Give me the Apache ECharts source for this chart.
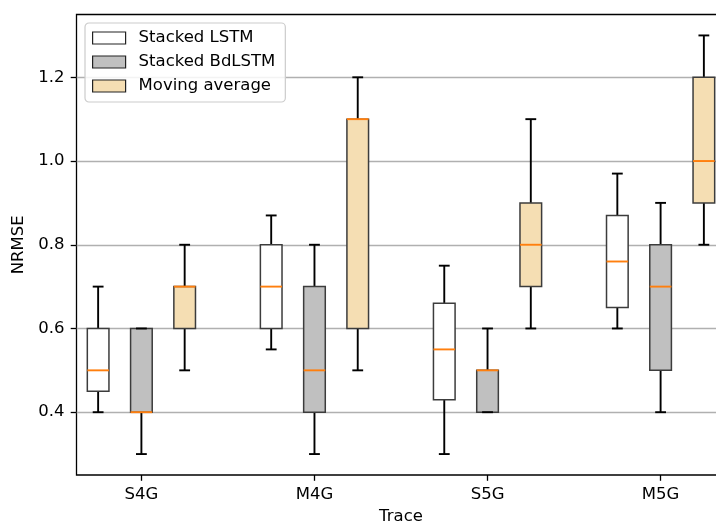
<!DOCTYPE html>
<html>
<head>
<meta charset="utf-8">
<script src="https://cdn.jsdelivr.net/npm/echarts@6/dist/echarts.min.js"></script>
<style>html,body{margin:0;padding:0;background:#fff}#c{width:716px;height:523px}</style>
</head>
<body>
<div id="c"></div>
<script>
// Trace groups (x-axis tick labels)
const traces = ['S4G', 'M4G', 'S5G', 'M5G'];
const seriesNames = ['Stacked LSTM', 'Stacked BdLSTM', 'Moving average'];
// box stats per trace: [min, Q1, median, Q3, max]
const lstm   = [[0.40, 0.45, 0.50, 0.60, 0.70], [0.55, 0.60, 0.70, 0.80, 0.87], [0.30, 0.43, 0.55, 0.66, 0.75], [0.60, 0.65, 0.76, 0.87, 0.97]];
const bdlstm = [[0.30, 0.40, 0.40, 0.60, 0.60], [0.30, 0.40, 0.50, 0.70, 0.80], [0.40, 0.40, 0.50, 0.50, 0.60], [0.40, 0.50, 0.70, 0.80, 0.90]];
const movavg = [[0.50, 0.60, 0.70, 0.70, 0.80], [0.50, 0.60, 1.10, 1.10, 1.20], [0.60, 0.70, 0.80, 0.90, 1.10], [0.80, 0.90, 1.00, 1.20, 1.30]];
const yTicks = [0.4, 0.6, 0.8, 1.0, 1.2];

// category slots: 3 boxes + 1 gap per trace
const slots = [];
traces.forEach((t, i) => { slots.push(''); slots.push(t); slots.push(''); if (i < traces.length - 1) slots.push(''); });
const labelIdx = traces.map((t, i) => i * 4 + 1);

function toData(arr, offset) { return arr.map((v, i) => [i * 4 + offset].concat(v)); }

const fills = ['#ffffff', '#c0c0c0', '#f5deb3'];
const MED = '#ff7f0e';

function renderBox(fill) {
  return function (params, api) {
    const x = api.value(0);
    const pMin = api.coord([x, api.value(1)]);
    const pQ1 = api.coord([x, api.value(2)]);
    const pMed = api.coord([x, api.value(3)]);
    const pQ3 = api.coord([x, api.value(4)]);
    const pMax = api.coord([x, api.value(5)]);
    const bw = api.size([1, 0])[0];
    const hw = bw * 0.25, cw = bw * 0.125;
    const cx = pMed[0];
    const wStyle = { stroke: '#000', lineWidth: 1.9, fill: null };
    return {
      type: 'group',
      children: [
        { type: 'line', shape: { x1: cx, y1: pQ1[1], x2: cx, y2: pMin[1] }, style: wStyle },
        { type: 'line', shape: { x1: cx, y1: pQ3[1], x2: cx, y2: pMax[1] }, style: wStyle },
        { type: 'rect', shape: { x: cx - hw, y: pQ3[1], width: 2 * hw, height: pQ1[1] - pQ3[1] },
          style: { fill: fill, stroke: '#3c3c3c', lineWidth: 1.5 } },
        { type: 'line', shape: { x1: cx - hw, y1: pMed[1], x2: cx + hw, y2: pMed[1] }, style: { stroke: MED, lineWidth: 1.9 } },
        { type: 'line', shape: { x1: cx - cw, y1: pMin[1], x2: cx + cw, y2: pMin[1] }, style: wStyle },
        { type: 'line', shape: { x1: cx - cw, y1: pMax[1], x2: cx + cw, y2: pMax[1] }, style: wStyle }
      ]
    };
  };
}

const FONT = 'DejaVu Sans';
const FS = 16.5;
const chart = echarts.init(document.getElementById('c'), null, { renderer: 'canvas' });
const allData = [toData(lstm, 0), toData(bdlstm, 1), toData(movavg, 2)];

chart.setOption({
  animation: false,
  backgroundColor: '#fff',
  textStyle: { fontFamily: FONT },
  grid: { left: 76.5, top: 14.5, width: 649, bottom: 48, outerBoundsMode: 'none', containLabel: false, show: true, borderColor: '#000', borderWidth: 1.3, backgroundColor: 'transparent' },
  legend: {
    left: 85, top: 23, orient: 'vertical',
    itemWidth: 33, itemHeight: 12, itemGap: 6,
    padding: [6, 10, 7, 7],
    borderColor: '#cccccc', borderWidth: 1.2, borderRadius: 4, backgroundColor: 'rgba(255,255,255,0.85)',
    textStyle: { fontFamily: FONT, fontSize: FS, color: '#000', padding: [0, 0, 0, 8], lineHeight: 18 },
    data: seriesNames.map((n, i) => ({ name: n, icon: 'rect', itemStyle: { color: fills[i], borderColor: '#222', borderWidth: 1.2 } }))
  },
  xAxis: {
    type: 'category', data: slots, boundaryGap: true,
    name: 'Trace', nameLocation: 'middle', nameGap: 33,
    nameTextStyle: { fontFamily: FONT, fontSize: FS, color: '#000' },
    axisLine: { show: false },
    axisTick: { show: true, alignWithLabel: true, interval: (i) => labelIdx.includes(i), length: 5.8, lineStyle: { color: '#000', width: 1.3 } },
    axisLabel: { interval: (i) => labelIdx.includes(i), margin: 11, fontFamily: FONT, fontSize: FS, color: '#000' },
    splitLine: { show: false }
  },
  yAxis: {
    type: 'value', min: 0.25, max: 1.35,
    name: 'NRMSE', nameLocation: 'middle', nameGap: 40, nameRotate: 90,
    nameTextStyle: { fontFamily: FONT, fontSize: FS, color: '#000' },
    axisLine: { show: false },
    axisTick: { show: true, customValues: yTicks, length: 5.8, lineStyle: { color: '#000', width: 1.3 } },
    axisLabel: { customValues: yTicks, formatter: (v) => v.toFixed(1), margin: 12, fontFamily: FONT, fontSize: FS, color: '#000' },
    splitLine: { show: true, lineStyle: { color: '#b0b0b0', width: 1.3 } }
  },
  series: seriesNames.map((n, i) => ({
    name: n, type: 'custom', renderItem: renderBox(fills[i]),
    itemStyle: { color: fills[i], borderColor: '#222' },
    encode: { x: 0, y: [1, 2, 3, 4, 5] },
    data: allData[i], z: 2
  }))
});
</script>
</body>
</html>
